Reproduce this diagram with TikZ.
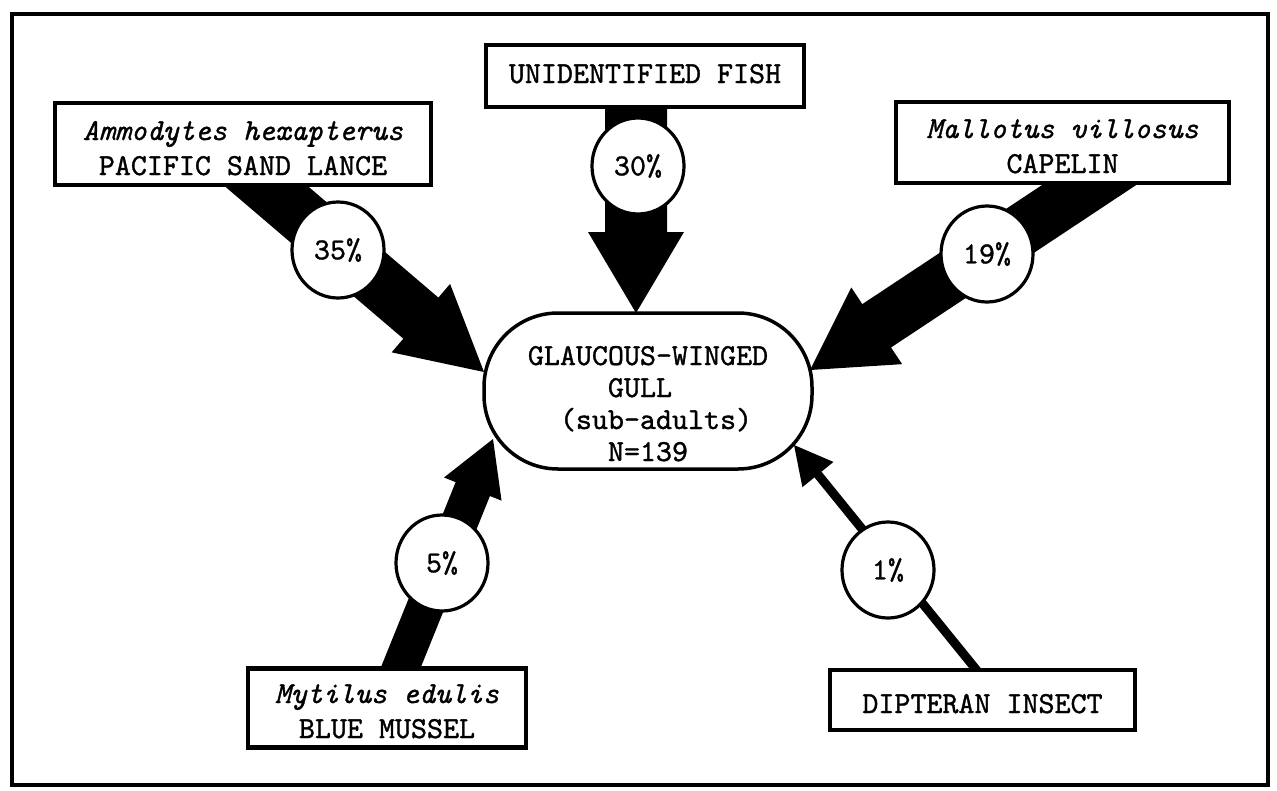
\documentclass[tikz,border=0pt]{standalone}
\usepackage{fontspec}
\newfontfamily\tw{lmmono10-regular.otf}[ItalicFont=lmmono10-italic.otf, FakeBold=1.1]
\usetikzlibrary{calc,shapes.geometric}

% thick filled flow arrow: start, tip, half shaft width, half head width, head length
\newcommand\feedarrow[5]{%
  \coordinate (fa-base) at ($(#2)!#5!(#1)$);
  \fill ($(#1)!#3!90:(#2)$) -- ($(fa-base)!#3!90:(#2)$) -- ($(fa-base)!#4!90:(#2)$)
    -- (#2) -- ($(fa-base)!#4!-90:(#2)$) -- ($(fa-base)!#3!-90:(#2)$)
    -- ($(#1)!#3!-90:(#2)$) -- cycle;
}

\tikzset{
  every node/.style={inner sep=0pt, font=\tw\fontsize{30.5}{35}\selectfont},
  srcbox/.style={draw, line width=4.5pt, fill=white, align=center},
  tb/.style={text height=#1, text depth=0pt},
  pct/.style={draw, ellipse, line width=3.2pt, fill=white,
    minimum width=92pt, minimum height=96pt},
  gullbox/.style={draw, line width=3.5pt, fill=white, rounded corners=74pt,
    minimum width=328pt, minimum height=156pt, align=center,
    font=\tw\fontsize{30.5}{32}\selectfont},
}

\begin{document}
\begin{tikzpicture}[x=1pt,y=-1pt]
\useasboundingbox (0,0) rectangle (1277,790);
\draw[line width=4pt] (12,14) rectangle (1268,785);

% predator
\node[gullbox, tb=140pt] (gull) at (648,391)
  {GLAUCOUS-WINGED\\GULL\hphantom{x}\\\hphantom{x}(sub-adults)\\N=139};

% connector ends
\coordinate (amm-s) at (218,145);  \coordinate (amm-t) at (484,372);
\coordinate (fish-s) at (636,80);  \coordinate (fish-t) at (636,313);
\coordinate (cap-s) at (1148,146); \coordinate (cap-t) at (810,370);
\coordinate (mus-s) at (382,714);  \coordinate (mus-t) at (493,439);
\coordinate (ins-s) at (1013,715); \coordinate (ins-t) at (794,445);

\feedarrow{amm-s}{amm-t}{27pt}{45pt}{83pt}
\feedarrow{fish-s}{fish-t}{31pt}{48pt}{81pt}
\feedarrow{cap-s}{cap-t}{26pt}{46pt}{80pt}
\feedarrow{mus-s}{mus-t}{18.5pt}{31pt}{54pt}
\feedarrow{ins-s}{ins-t}{4.5pt}{20pt}{38pt}

% prey
\node[srcbox, tb=14pt, minimum width=318pt, minimum height=62pt] (fish) at (645,76)
  {UNIDENTIFIED FISH};
\node[srcbox, tb=62pt, minimum width=376pt, minimum height=82pt] (amm) at (243,144)
  {\itshape Ammodytes hexapterus\\PACIFIC SAND LANCE};
\node[srcbox, tb=61pt, minimum width=333pt, minimum height=81pt] (cap) at (1062.5,142.5)
  {\itshape Mallotus villosus\\CAPELIN};
\node[srcbox, tb=60pt, minimum width=278pt, minimum height=79pt] (mus) at (387,708)
  {\itshape Mytilus edulis\\BLUE MUSSEL};
\node[srcbox, tb=26pt, minimum width=305pt, minimum height=60pt] (ins) at (982.5,700)
  {DIPTERAN INSECT};

% diet shares
\node[pct] (p35) at (338,250) {35\%};
\node[pct] (p30) at (638,166) {30\%};
\node[pct] (p19) at (987,254) {19\%};
\node[pct] (p5)  at (442,563) {5\%};
\node[pct] (p1)  at (888,570) {1\%};
\end{tikzpicture}
\end{document}
